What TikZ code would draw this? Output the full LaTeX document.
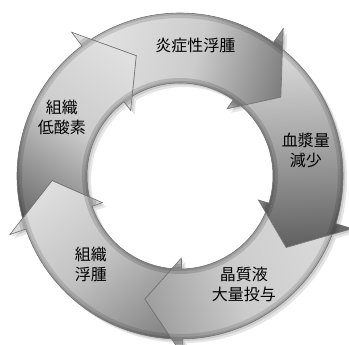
\documentclass[tikz,border=0pt]{standalone}
\usepackage{fontspec}
\newfontfamily\cjk{Noto Sans CJK JP}
\tikzset{
  lbl/.style={font=\cjk\fontsize{16}{20}\selectfont, align=center, text=black, inner sep=0pt},
  rim/.style={draw=black!55, line width=0.6pt},
  shadowfill/.style={fill=black, opacity=0.10},
}
\newcommand\cycarrow[1]{(#1+13.03:163pt) arc[start angle=#1+13.03, end angle=#1-55, radius=163pt] -- (#1-55:180pt) -- (#1-72:128pt) -- (#1-55:82pt) -- (#1-55:93pt) arc[start angle=#1-55, end angle=#1+11.0, radius=93pt] -- (#1:128pt) -- cycle}
\begin{document}
\begin{tikzpicture}[x=1pt,y=1pt]
\useasboundingbox[fill=white] (-180,-169) rectangle (169,176);
% soft shadow
\foreach \A in {110,38,-34,-106,-178}{
  \fill[shadowfill, shift={(2pt,-2pt)}] \cycarrow{\A};
  \fill[shadowfill, shift={(4pt,-4pt)}] \cycarrow{\A};
}
% arrows: tail colour / middle colour / head colour
\foreach \A/\tc/\mc/\hc in {110/10/20/58, 38/12/38/68, -34/14/20/42, -106/52/24/10, -178/62/20/10}{
  \begin{scope}
    \clip \cycarrow{\A};
    \shade[transform canvas={rotate=\A-126}, left color=black!\tc, right color=black!\hc, middle color=black!\mc] (-130,55) rectangle (95,185);
    \draw[black, opacity=0.12, line width=10pt] (0,0) circle[radius=163pt];
    \draw[black, opacity=0.12, line width=4pt] (0,0) circle[radius=163pt];
    \draw[black, opacity=0.14, line width=10pt] (0,0) circle[radius=93pt];
    \draw[black, opacity=0.12, line width=4pt] (0,0) circle[radius=93pt];
  \end{scope}
  \draw[rim] \cycarrow{\A};
}
\node[lbl] (t1) at (15.5,131) {炎症性浮腫};
\node[lbl] (t2) at (126,26) {血漿量\\減少};
\node[lbl] (t3) at (64,-108) {晶質液\\大量投与};
\node[lbl] (t4) at (-89,-88) {組織\\浮腫};
\node[lbl] (t5) at (-118,59) {組織\\低酸素};
\end{tikzpicture}
\end{document}
